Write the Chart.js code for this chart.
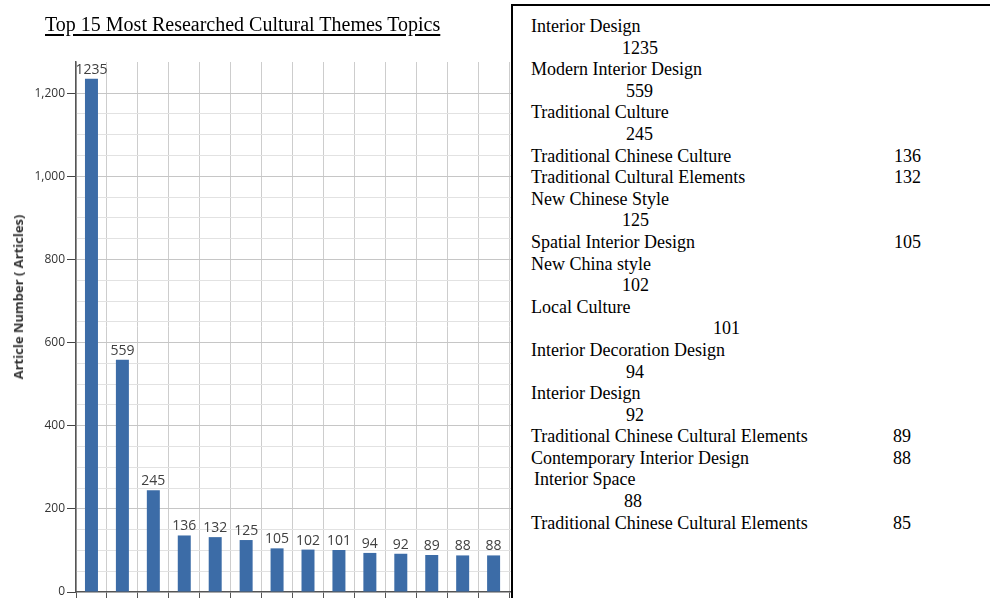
<!DOCTYPE html>
<html>
<head>
<meta charset="utf-8">
<script src="https://cdn.jsdelivr.net/npm/chart.js@4.4.1/dist/chart.umd.min.js"></script>
<style>
  html, body { margin: 0; padding: 0; background: #fff; width: 990px; height: 598px; overflow: hidden; }
  #chart-wrap { position: absolute; left: 0; top: 0; width: 545px; height: 700px; }
  #chart-title {
    position: absolute; left: 45px; top: 13px;
    font-family: "Liberation Serif", serif; font-size: 20px; color: #000;
    text-decoration: underline; text-underline-offset: 3px; white-space: nowrap;
  }
  #y-title {
    position: absolute; left: 18px; top: 297px;
    transform: translate(-50%, -50%) rotate(-90deg);
    font-family: "Open Sans", sans-serif; font-size: 13px; font-weight: bold; color: #333;
    white-space: nowrap;
  }
  #topic-box {
    position: absolute; left: 511px; top: 4px; width: 600px; height: 700px;
    background: #fff; border: 2px solid #000; box-sizing: border-box;
    font-family: "Liberation Serif", serif; font-size: 18px; line-height: 21.6px; color: #000;
  }
  .row { position: relative; height: 21.6px; white-space: nowrap; }
  .row span { position: absolute; top: 0; }
</style>
</head>
<body>
<div id="chart-wrap"><canvas id="bar-chart" width="545" height="700"></canvas></div>
<div id="chart-title">Top 15 Most Researched Cultural Themes Topics</div>
<div id="y-title">Article Number ( Articles)</div>
<div id="topic-box"></div>
<script>
// data
const topics = [
  'Interior Design', 'Modern Interior Design', 'Traditional Culture',
  'Traditional Chinese Culture', 'Traditional Cultural Elements', 'New Chinese Style',
  'Spatial Interior Design', 'New China style', 'Local Culture',
  'Interior Decoration Design', 'Interior Design', 'Traditional Chinese Cultural Elements',
  'Contemporary Interior Design', 'Interior Space', 'Traditional Chinese Cultural Elements'
];
const articleCounts = [1235, 559, 245, 136, 132, 125, 105, 102, 101, 94, 92, 89, 88, 88, 85];
const yTickLabels = [0, 200, 400, 600, 800, 1000, 1200];

// how each entry sits in the text box: number on the next line or in the right column, and where
const boxNumberX = [622, 626, 626, 894, 894, 622, 894, 622, 713, 626, 626, 893, 893, 624, 893];
const boxInline = [false, false, false, true, true, false, true, false, false, false, false, true, true, false, true];
const boxNameIndent = [0, 0, 0, 0, 0, 0, 0, 0, 0, 0, 0, 0, 0, 3, 0];

function buildTopicBox() {
	const box = document.getElementById('topic-box');
	const boxLeft = 511 + 2;
	const top = document.createElement('div');
	top.style.height = '10px';
	box.appendChild(top);

	for (let i = 0; i < topics.length; i++) {
		const nameRow = document.createElement('div');
		nameRow.className = 'row';
		const name = document.createElement('span');
		name.innerText = topics[i];
		name.style.left = (18 + boxNameIndent[i]) + 'px';
		nameRow.appendChild(name);

		const num = document.createElement('span');
		num.innerText = articleCounts[i];
		num.style.left = (boxNumberX[i] - boxLeft) + 'px';

		if (boxInline[i]) {
			nameRow.appendChild(num);
			box.appendChild(nameRow);
		} else {
			box.appendChild(nameRow);
			const numRow = document.createElement('div');
			numRow.className = 'row';
			numRow.appendChild(num);
			box.appendChild(numRow);
		}
	}
}
buildTopicBox();

const barValueLabels = {
	id: 'barValueLabels',
	afterDatasetsDraw(chart) {
		const ctx = chart.ctx;
		const meta = chart.getDatasetMeta(0);
		ctx.save();
		ctx.font = '14px "Open Sans", sans-serif';
		ctx.fillStyle = '#404040';
		ctx.textAlign = 'center';
		ctx.textBaseline = 'bottom';
		meta.data.forEach((bar, i) => {
			ctx.fillText(articleCounts[i], bar.x, bar.y - 2);
		});
		ctx.restore();
	}
};

new Chart(document.getElementById('bar-chart').getContext('2d'), {
	type: 'bar',
	data: {
		labels: topics,
		datasets: [{
			data: articleCounts,
			backgroundColor: '#3c6ca7',
			borderWidth: 0,
			barPercentage: 0.42,
			categoryPercentage: 1
		}]
	},
	options: {
		responsive: false,
		animation: false,
		layout: { padding: { top: 62, right: 5, left: 0, bottom: 0 } },
		plugins: {
			legend: { display: false },
			tooltip: { enabled: false },
			title: { display: false }
		},
		scales: {
			x: {
				afterFit: (scale) => { scale.height = 108; },
				border: { color: '#555', width: 1.5 },
				grid: { color: '#cdcdcd', tickColor: '#555', tickLength: 8, offset: true },
				ticks: { autoSkip: false, maxRotation: 90, minRotation: 90, color: '#333', font: { size: 11 } }
			},
			y: {
				min: 0,
				max: 1275,
				afterFit: (scale) => { scale.width = 76; },
				border: { color: '#555', width: 1.5 },
				grid: {
					tickLength: 9,
					color: (c) => {
						const v = c.tick.value;
						if (v === 0 || v === 1275) return 'rgba(0,0,0,0)';
						return yTickLabels.includes(v) ? '#c6c6c6' : '#e2e2e2';
					},
					tickColor: (c) => yTickLabels.includes(c.tick.value) ? '#444' : 'rgba(0,0,0,0)'
				},
				ticks: {
					stepSize: 50,
					padding: 2,
					color: '#333',
					font: { family: '"Open Sans", sans-serif', size: 12 },
					callback: (v) => yTickLabels.includes(v) ? v.toLocaleString('en-US') : ''
				}
			}
		}
	},
	plugins: [barValueLabels]
});
</script>
</body>
</html>
